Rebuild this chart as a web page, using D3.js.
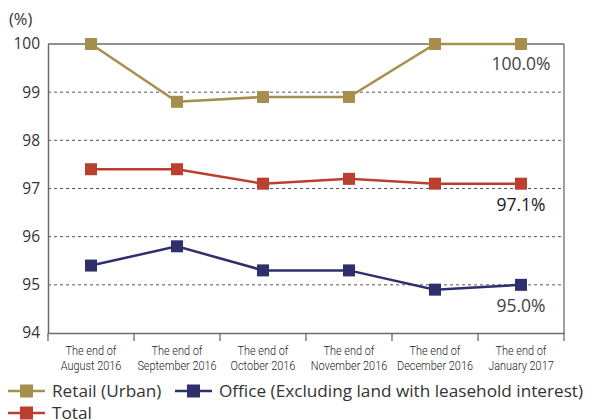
<!DOCTYPE html>
<html><head><meta charset="utf-8">
<script src="https://cdn.jsdelivr.net/npm/d3@7"></script>
<style>body{margin:0;background:#fff}svg{display:block}</style>
</head><body>
<svg id="c" width="597" height="420"></svg>
<script>
const categories = [["The end of","August 2016"],["The end of","September 2016"],["The end of","October 2016"],["The end of","November 2016"],["The end of","December 2016"],["The end of","January 2017"]];
const retail = [100, 98.8, 98.9, 98.9, 100, 100];
const total = [97.4, 97.4, 97.1, 97.2, 97.1, 97.1];
const office = [95.4, 95.8, 95.3, 95.3, 94.9, 95.0];
const yTicks = [94, 95, 96, 97, 98, 99, 100];
const seriesNames = ["Retail (Urban)", "Office (Excluding land with leasehold interest)", "Total"];
const endLabels = ["100.0%", "95.0%", "97.1%"];

const svg = d3.select("#c");
const L = 48, R = 564, T = 44, B = 333;
const x = d3.scaleBand().domain(d3.range(categories.length)).range([L, R]);
const y = d3.scaleLinear().domain([94, 100]).range([B, T]);
const font = "'Open Sans', 'Noto Sans', sans-serif";

// grid
svg.append("g").selectAll("line").data(yTicks.filter(d => d > 94 && d < 100)).join("line")
  .attr("x1", L).attr("x2", R).attr("y1", d => y(d)).attr("y2", d => y(d))
  .attr("stroke", "#555").attr("stroke-width", 1).attr("stroke-dasharray", "3,3");

// frame
const axCol = "#6b6b6b";
svg.append("line").attr("x1", L).attr("x2", R).attr("y1", y(100)).attr("y2", y(100)).attr("stroke", axCol).attr("stroke-width", 1.3);
svg.append("line").attr("x1", R).attr("x2", R).attr("y1", T).attr("y2", B).attr("stroke", axCol).attr("stroke-width", 1.3);

// y axis
const yAxis = svg.append("g").attr("transform", `translate(${L},0)`)
  .call(d3.axisLeft(y).tickValues(yTicks).tickSize(0).tickPadding(8).tickFormat(d3.format("d")));
yAxis.select(".domain").attr("stroke", axCol).attr("stroke-width", 1.5);
yAxis.selectAll("text").attr("font-family", font).attr("font-size", 15.5).attr("fill", "#333");

// x axis
const xAxis = svg.append("g").attr("transform", `translate(0,${B})`)
  .call(d3.axisBottom(x).tickSize(0).tickFormat(""));
xAxis.select(".domain").attr("stroke", axCol).attr("stroke-width", 1.5);
svg.append("g").selectAll("line").data(d3.range(categories.length + 1)).join("line")
  .attr("x1", i => L + i * x.step()).attr("x2", i => L + i * x.step())
  .attr("y1", B).attr("y2", B + 8).attr("stroke", axCol).attr("stroke-width", 1.3);
const xl = svg.append("g").selectAll("g").data(categories).join("g")
  .attr("transform", (d, i) => `translate(${x(i) + x.bandwidth() / 2},0) scale(0.84,1)`);
xl.each(function(d) {
  const g = d3.select(this);
  [0, 1].forEach(j => g.append("text").attr("x", 0).attr("y", 355 + j * 15.5)
    .attr("text-anchor", "middle").attr("font-family", "Roboto, 'Noto Sans', sans-serif")
    .attr("font-size", 13).attr("font-weight", 300).attr("fill", "#222").text(d[j]));
});

svg.append("text").attr("x", 9).attr("y", 25).attr("font-family", font).attr("font-size", 16.5).attr("fill", "#333").text("(%)");

const colors = ["#a68f4e", "#2e2f6d", "#bb3f2e"];
const data = [retail, office, total];
const line = d3.line().x((d, i) => x(i) + x.bandwidth() / 2).y(d => y(d));
data.forEach((s, k) => {
  svg.append("path").datum(s).attr("d", line).attr("fill", "none").attr("stroke", colors[k]).attr("stroke-width", 2.5);
  svg.append("g").selectAll("rect").data(s).join("rect")
    .attr("x", (d, i) => x(i) + x.bandwidth() / 2 - 6).attr("y", d => y(d) - 6)
    .attr("width", 12).attr("height", 12).attr("fill", colors[k]);
});

// end labels
const lastX = x(categories.length - 1) + x.bandwidth() / 2;
const last = categories.length - 1;
data.forEach((s, k) => {
  svg.append("text").attr("x", lastX).attr("y", y(s[last]) + (k === 0 ? 26 : 27))
    .attr("text-anchor", "middle").attr("font-family", font).attr("font-size", 17.5)
    .attr("font-weight", k === 2 ? 500 : 400)
    .attr("fill", k === 2 ? "#1a1a1a" : "#444")
    .text(endLabels[k]);
});

// legend
const leg = [{x: 8, y: 391, k: 0}, {x: 175, y: 391, k: 1}, {x: 8, y: 413, k: 2}];
leg.forEach(l => {
  const g = svg.append("g");
  g.append("line").attr("x1", l.x).attr("x2", l.x + 37).attr("y1", l.y).attr("y2", l.y).attr("stroke", colors[l.k]).attr("stroke-width", 2.5);
  g.append("rect").attr("x", l.x + 12).attr("y", l.y - 6.5).attr("width", 13).attr("height", 13).attr("fill", colors[l.k]);
  g.append("text").attr("x", l.x + 44).attr("y", l.y + 6).attr("font-family", font).attr("font-size", 17.2).attr("fill", "#333").text(seriesNames[l.k]);
});
</script>
</body></html>
